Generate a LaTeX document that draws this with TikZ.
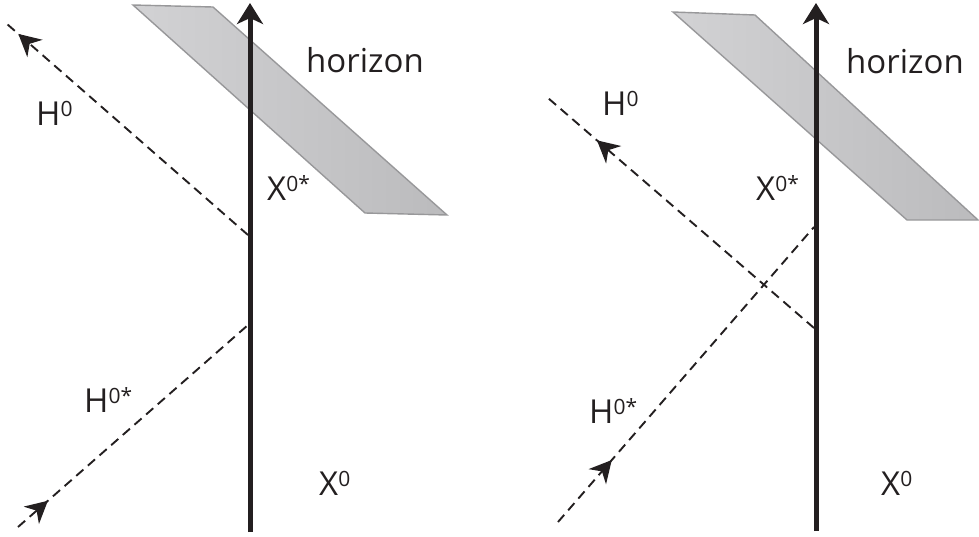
\documentclass[tikz,border=0pt]{standalone}
\usepackage{fontspec}
\setmainfont{Open Sans}
\usetikzlibrary{arrows.meta,decorations.markings}
\definecolor{ink}{HTML}{231F20}
\definecolor{hzlight}{HTML}{D2D2D4}
\definecolor{hzdark}{HTML}{BBBBBD}
\definecolor{hzedge}{HTML}{98989A}
\newcommand{\supx}[1]{\raisebox{9pt}{\fontsize{21}{21}\selectfont #1}}
\begin{document}
\begin{tikzpicture}[x=1pt,y=-1pt,
  axisline/.style={line width=5pt, draw=ink, -{Stealth[length=21pt,width=26pt,inset=6pt]}},
  dline/.style={color=ink, line width=1.9pt, dash pattern=on 9.5pt off 6pt},
  midarrow/.style={postaction={decorate}, decoration={markings,
      mark=at position #1 with {\arrow{Stealth[length=22pt,width=23pt,inset=7pt]}}}},
  horizonband/.style={left color=hzlight, right color=hzdark, draw=hzedge, line width=1.4pt},
  lbl/.style={anchor=base west, inner sep=0pt, text=ink, font=\fontsize{33}{33}\selectfont}]
\useasboundingbox (0,0) rectangle (979,536);

% ---------- left panel ----------
\coordinate (LP1) at (133,5);
\coordinate (LP2) at (213,7);
\coordinate (LP3) at (447,215);
\coordinate (LP4) at (365,213);
\shade[horizonband] (LP1) -- (LP2) -- (LP3) -- (LP4) -- cycle;

\coordinate (A1) at (248,235);
\coordinate (A2) at (7,24);
\draw[dline, midarrow=0.953] (A1) -- (A2);
\coordinate (D1) at (18,527);
\coordinate (D2) at (248,325);
\draw[dline, midarrow=0.13] (D1) -- (D2);

\coordinate (LAb) at (250,532);
\coordinate (LAt) at (250,3);
\draw[axisline] (LAb) -- (LAt);

\node[lbl] (lH) at (36,125) {H\supx{0}};
\node[lbl] (lHs) at (84,412) {H\supx{0*}};
\node[lbl] (lXs) at (267,200) {X\supx{0*}};
\node[lbl] (lX) at (319,495) {X\supx{0}};
\node[lbl] (lhor) at (306,72) {horizon};

% ---------- right panel ----------
\coordinate (RP1) at (673,12);
\coordinate (RP2) at (755,15);
\coordinate (RP3) at (978,220);
\coordinate (RP4) at (907,220);
\shade[horizonband] (RP1) -- (RP2) -- (RP3) -- (RP4) -- cycle;

\coordinate (B1) at (814,328);
\coordinate (B2) at (548,98);
\draw[dline, midarrow=0.816] (B1) -- (B2);
\coordinate (C1) at (558,522);
\coordinate (C2) at (814,227);
\draw[dline, midarrow=0.21] (C1) -- (C2);

\coordinate (RAb) at (816,531);
\coordinate (RAt) at (816,3);
\draw[axisline] (RAb) -- (RAt);

\node[lbl] (rH) at (602,115) {H\supx{0}};
\node[lbl] (rHs) at (589,423) {H\supx{0*}};
\node[lbl] (rXs) at (756,200) {X\supx{0*}};
\node[lbl] (rX) at (881,495) {X\supx{0}};
\node[lbl] (rhor) at (846,73) {horizon};
\end{tikzpicture}
\end{document}
